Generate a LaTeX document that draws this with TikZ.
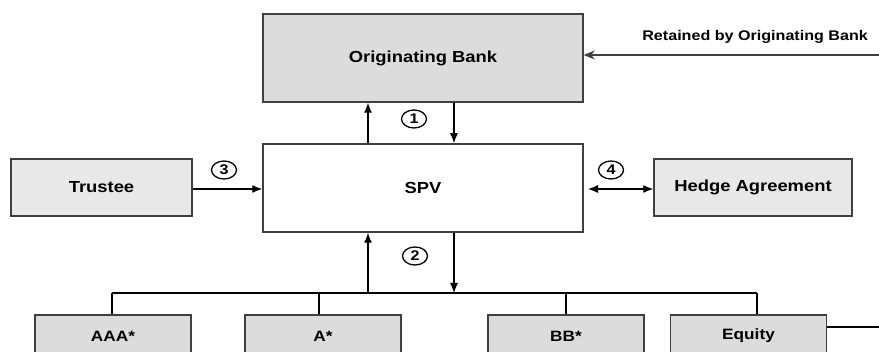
\documentclass[tikz,border=0pt]{standalone}
\usepackage{fontspec}
\setmainfont{Liberation Sans}[FakeStretch=1.15]
\usetikzlibrary{arrows.meta,shapes.geometric}
\definecolor{boxgray}{HTML}{DCDCDC}
\definecolor{dotgray}{HTML}{E8E8E8}
\definecolor{edge}{HTML}{404040}
\begin{document}
\begin{tikzpicture}[x=1pt,y=-1pt,
  box/.style={draw=edge,line width=1.5pt,rectangle,inner sep=0pt,font=\bfseries\fontsize{16}{18}\selectfont},
  tranche/.style={box,fill=boxgray,minimum width=156pt,minimum height=42pt,font=\bfseries\fontsize{15}{17}\selectfont},
  arr/.style={line width=1.2pt,-{Latex[length=10pt,width=8pt]}},
  darr/.style={line width=1.2pt,{Latex[length=10pt,width=8pt]}-{Latex[length=10pt,width=8pt]}},
  plain/.style={line width=1.2pt},
  num/.style={draw,ellipse,line width=1.3pt,minimum width=25pt,minimum height=18pt,inner sep=0pt,font=\bfseries\fontsize{14}{15}\selectfont}]
\useasboundingbox (0,0) rectangle (879,352);
\begin{scope}
\clip (0,0) rectangle (879,352);
% main boxes
\node[box,fill=boxgray,minimum width=320pt,minimum height=88pt] (OB) at (423,58) {Originating Bank};
\node[box,fill=white,minimum width=320pt,minimum height=88pt] (SPV) at (423,188) {SPV};
\node[box,fill=dotgray,minimum width=181pt,minimum height=57pt] (TR) at (101.5,187.5) {Trustee};
\node[box,fill=dotgray,minimum width=198pt,minimum height=57pt] (HA) at (753,187.5) {Hedge Agreement};
% tranches
\node[tranche] (AAA) at (113,336) {AAA*};
\node[tranche] (A) at (323,336) {A*};
\node[tranche] (BB) at (566,336) {BB*};
\node[tranche] (EQ) at (748.5,336) {Equity};
% numbers
\node[num] (n1) at (414,119) {1};
\node[num] (n2) at (415,256) {2};
\node[num] (n3) at (224,170) {3};
\node[num] (n4) at (611,170) {4};
% helper coordinates
\coordinate (cu) at (368,0);
\coordinate (cd) at (454,0);
\coordinate (ty) at (0,189);
\coordinate (busL) at (112,293);
\coordinate (busR) at (757,293);
\coordinate (busU) at (368,293);
\coordinate (busD) at (454,293);
\coordinate (hL) at (588,189);
\coordinate (retR) at (879,55);
\coordinate (eqR) at (879,327);
\coordinate (dA) at (319,293);
\coordinate (dB) at (566,293);
% top arrows
\draw[arr] (SPV.north -| cu) -- (OB.south -| cu);
\draw[arr] (OB.south -| cd) -- (SPV.north -| cd);
% side arrows
\draw[arr] (TR.east |- ty) -- (SPV.west |- ty);
\draw[darr] (hL) -- (HA.west |- hL);
% bottom arrows
\draw[arr] (busU) -- (SPV.south -| busU);
\draw[arr] (SPV.south -| busD) -- (busD);
% bus
\draw[plain] (busL) -- (busR);
\draw[plain] (busL) -- (AAA.north -| busL);
\draw[plain] (dA) -- (A.north -| dA);
\draw[plain] (dB) -- (BB.north -| dB);
\draw[plain] (busR) -- (EQ.north -| busR);
% equity line
\draw[plain] (EQ.east |- eqR) -- (eqR);
% retained
\draw[line width=1.4pt,draw=edge,-{Stealth[length=11pt,width=9pt,inset=3.5pt]}] (retR) -- (OB.east |- retR);
\node[anchor=east,inner sep=0pt,font=\bfseries\fontsize{14}{16}\selectfont] (RT) at (868,37) {Retained by Originating Bank};
\end{scope}
\end{tikzpicture}
\end{document}
